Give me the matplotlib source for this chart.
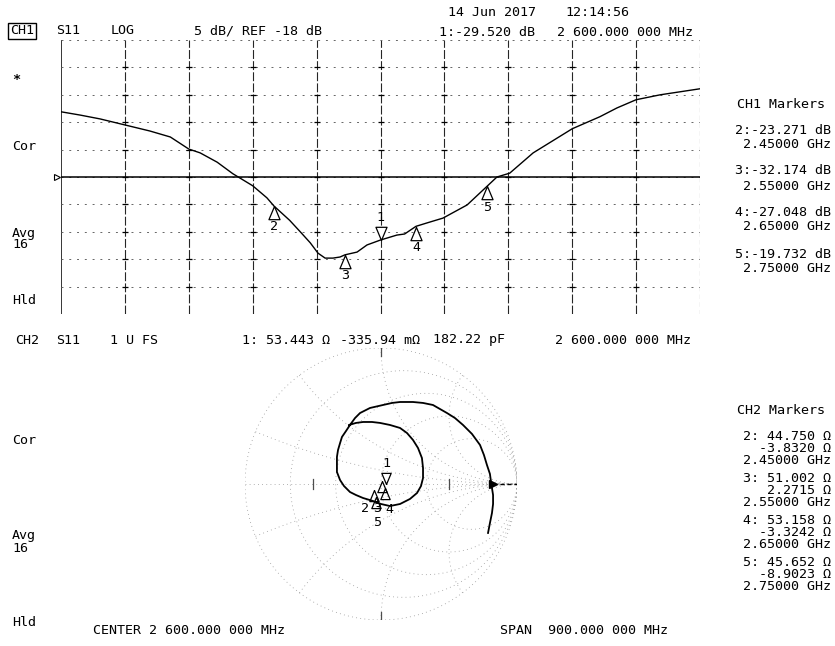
import numpy as np
import matplotlib
matplotlib.use('Agg')
import matplotlib.pyplot as plt
import matplotlib.transforms as mtransforms

plt.rcParams['font.family'] = ['DejaVu Sans Mono', 'DejaVu Sans']
FS = 9.6

# ---- CH1: S11 log magnitude ----
center_mhz = 2600
span_mhz = 900
ref_db = -18
db_per_div = 5

freq_mhz = [2150, 2177, 2205, 2240, 2275, 2304, 2330, 2346, 2370, 2392, 2420, 2440,
            2450, 2472, 2487, 2501, 2512, 2522, 2533, 2543, 2550, 2567, 2581, 2600,
            2623, 2634, 2650, 2665, 2688, 2722, 2750, 2764, 2782, 2815, 2870, 2909,
            2933, 2960, 2994, 3050]
s11_db = [-6.1, -6.7, -7.4, -8.5, -9.6, -10.7, -12.9, -13.6, -15.3, -17.4, -19.6, -21.8,
          -23.3, -25.9, -28.0, -30.0, -31.9, -32.8, -32.8, -32.6, -32.2, -31.7, -30.4, -29.5,
          -28.6, -28.4, -27.0, -26.4, -25.5, -23.1, -19.7, -18.0, -17.3, -13.6, -9.2, -7.0,
          -5.4, -3.9, -3.0, -1.9]

ch1_mk_id = ['1', '2', '3', '4', '5']
ch1_mk_mhz = [2600, 2450, 2550, 2650, 2750]
ch1_mk_db = [-29.520, -23.271, -32.174, -27.048, -19.732]

# ---- CH2: S11 Smith chart trace (reflection coefficient) ----
smith_re = [-0.235, -0.184, -0.132, -0.066, -0.007, 0.066, 0.140, 0.191, 0.235, 0.272,
            0.301, 0.309, 0.309, 0.294, 0.265, 0.213, 0.140, 0.066, 0.000, -0.059,
            -0.132, -0.184, -0.228, -0.272, -0.301, -0.324, -0.324, -0.324, -0.316, -0.301,
            -0.287, -0.257, -0.228, -0.191, -0.154, -0.081, 0.015, 0.081, 0.140, 0.235,
            0.309, 0.382, 0.485, 0.544, 0.603, 0.669, 0.728, 0.757, 0.779, 0.801,
            0.809, 0.824, 0.824, 0.816, 0.801, 0.787]
smith_im = [0.434, 0.449, 0.456, 0.456, 0.449, 0.434, 0.412, 0.375, 0.324, 0.265,
            0.191, 0.118, 0.044, -0.015, -0.066, -0.110, -0.147, -0.162, -0.147, -0.125,
            -0.103, -0.081, -0.059, -0.015, 0.029, 0.088, 0.140, 0.199, 0.250, 0.301,
            0.346, 0.390, 0.434, 0.485, 0.522, 0.559, 0.581, 0.596, 0.603, 0.603,
            0.596, 0.581, 0.522, 0.485, 0.434, 0.368, 0.287, 0.213, 0.140, 0.074,
            0.015, -0.081, -0.147, -0.213, -0.287, -0.360]

ch2_mk_id = ['1', '2', '3', '4', '5']
ch2_mk_r = [53.443, 44.750, 51.002, 53.158, 45.652]
ch2_mk_x = [-0.33594, -3.8320, 2.2715, -3.3242, -8.9023]
z0 = 50.0

ch1_marker_text = [('2:-23.271 dB', '2.45000 GHz'), ('3:-32.174 dB', '2.55000 GHz'),
                   ('4:-27.048 dB', '2.65000 GHz'), ('5:-19.732 dB', '2.75000 GHz')]
ch2_marker_text = [('2: 44.750 Ω', '-3.8320 Ω', '2.45000 GHz'),
                   ('3: 51.002 Ω', '2.2715 Ω', '2.55000 GHz'),
                   ('4: 53.158 Ω', '-3.3242 Ω', '2.65000 GHz'),
                   ('5: 45.652 Ω', '-8.9023 Ω', '2.75000 GHz')]

W, H = 835, 646
fig = plt.figure(figsize=(W / 100, H / 100), dpi=100)
fig.patch.set_facecolor('white')


def px_axes(x0, y0, x1, y1):
    return fig.add_axes([x0 / W, 1 - y1 / H, (x1 - x0) / W, (y1 - y0) / H])


bg = fig.add_axes([0, 0, 1, 1])
bg.set_xlim(0, W)
bg.set_ylim(H, 0)
bg.axis('off')


def txt(x, y, s, ha='left', **kw):
    bg.text(x, y, s, ha=ha, va='center', fontsize=FS, color='k', **kw)


# marker shapes: apex sits on the data point
tri_up = [(0, 0), (-0.42, -1), (0.42, -1), (0, 0)]
tri_dn = [(0, 0), (-0.42, 1), (0.42, 1), (0, 0)]

# ---------------- top panel ----------------
ax1 = px_axes(61, 40, 700, 314)
f_lo, f_hi = center_mhz - span_mhz / 2, center_mhz + span_mhz / 2
y_lo, y_hi = ref_db - 5 * db_per_div, ref_db + 5 * db_per_div
ax1.set_xlim(f_lo, f_hi)
ax1.set_ylim(y_lo, y_hi)
ax1.axis('off')

xs = np.linspace(f_lo, f_hi, 11)
ys = np.linspace(y_lo, y_hi, 11)
for x in xs[1:-1]:
    ax1.axvline(x, color='0.15', lw=0.8, ls=(0, (8, 2)))
ax1.axvline(f_lo, color='k', lw=1.1)
ax1.axvline(f_hi, color='0.3', lw=0.8, ls=(0, (4, 3)))
for y in ys:
    ax1.axhline(y, color='0.4', lw=0.7, ls=(0, (2, 6)))
gx, gy = np.meshgrid(xs[1:-1], ys[1:-1])
ax1.plot(gx.ravel(), gy.ravel(), ls='none', marker='_', ms=5, mew=0.9, color='k')

ax1.axhline(ref_db, color='k', lw=1.1)
ax1.plot([f_lo], [ref_db], marker='>', ms=5, mfc='white', mec='k', mew=0.8,
         clip_on=False, transform=ax1.transData + mtransforms.Affine2D().translate(-4, 0))
ax1.plot(freq_mhz, s11_db, color='k', lw=1.0)

for mid, f, d in zip(ch1_mk_id, ch1_mk_mhz, ch1_mk_db):
    if mid == '1':
        ax1.plot([f], [d], marker=tri_dn, ms=19, mfc='white', mec='k', mew=0.9)
        ax1.annotate(mid, (f, d), xytext=(0, 16), textcoords='offset points',
                     ha='center', va='center', fontsize=FS)
    else:
        ax1.plot([f], [d], marker=tri_up, ms=19, mfc='white', mec='k', mew=0.9)
        ax1.annotate(mid, (f, d), xytext=(0, -15), textcoords='offset points',
                     ha='center', va='center', fontsize=FS)

# ---------------- Smith chart ----------------
ax2 = px_axes(245, 348, 517, 620)
ax2.set_xlim(-1, 1)
ax2.set_ylim(-1, 1)
ax2.axis('off')

grid_kw = dict(color='0.6', lw=0.6, ls=(0, (1, 4)))
t = np.linspace(-np.pi / 2 + 1e-3, np.pi / 2 - 1e-3, 600)
for r in [0, 0.2, 0.5, 1, 2]:
    z = r + 1j * np.tan(t)
    g = (z - 1) / (z + 1)
    ax2.plot(g.real, g.imag, **grid_kw)
rv = np.concatenate([np.linspace(0, 1, 150), np.logspace(0, 3, 300)])
for xv in [0.2, 0.5, 1, 2, -0.2, -0.5, -1, -2]:
    z = rv + 1j * xv
    g = (z - 1) / (z + 1)
    ax2.plot(g.real, g.imag, **grid_kw)
ax2.plot([-1, 1], [0, 0], **grid_kw)
for gy0 in [1, -1]:
    ax2.plot([0, 0], [gy0 * 0.94, gy0], color='0.3', lw=0.9)
for gx0 in [-0.5, 0.5]:
    ax2.plot([gx0, gx0], [-0.04, 0.04], color='0.3', lw=0.9)

ax2.plot(smith_re, smith_im, color='k', lw=1.3)
ax2.plot([0.82, 1.0], [0, 0], color='k', lw=1.0, ls=(0, (3, 2)))
ax2.plot([0.82], [0], marker='>', ms=6, color='k')

zm = np.array(ch2_mk_r) + 1j * np.array(ch2_mk_x)
gm = (zm - z0) / (zm + z0)
label_off = {'1': (1, 21), '2': (-9, -19), '3': (-5, -28), '4': (4, -21), '5': (1, -25)}
for mid, g in zip(ch2_mk_id, gm):
    shape = tri_dn if mid == '1' else tri_up
    ax2.plot([g.real], [g.imag], marker=shape, ms=16, mfc='none', mec='k', mew=0.9)
    ax2.annotate(mid, (g.real, g.imag), xytext=label_off[mid], textcoords='offset pixels',
                 ha='center', va='center', fontsize=FS)

# ---------------- annotation text ----------------
txt(448, 13, '14 Jun 2017')
txt(565, 13, '12:14:56')
txt(10, 31, 'CH1', bbox=dict(boxstyle='square,pad=0.12', fc='white', ec='k', lw=1.0))
txt(56, 31, 'S11')
txt(111, 31, 'LOG')
txt(194, 31, '5 dB/ REF -18 dB')
txt(439, 33, '1:-29.520 dB')
txt(557, 33, '2 600.000 000 MHz')

txt(12, 80, '*', fontweight='bold')
txt(12, 146, 'Cor')
txt(12, 233, 'Avg')
txt(12, 245, '16')
txt(12, 300, 'Hld')

txt(737, 104, 'CH1 Markers')
for (a, b), (ya, yb) in zip(ch1_marker_text, [(131, 145), (171, 186), (213, 227), (254, 269)]):
    txt(831, ya, a, ha='right')
    txt(831, yb, b, ha='right')

txt(15, 340, 'CH2')
txt(56, 340, 'S11')
txt(110, 340, '1 U FS')
txt(242, 340, '1: 53.443 Ω')
txt(340, 340, '-335.94 mΩ')
txt(433, 340, '182.22 pF')
txt(555, 340, '2 600.000 000 MHz')

txt(737, 410, 'CH2 Markers')
for lines, y0 in zip(ch2_marker_text, [437, 479, 521, 563]):
    for k, s in enumerate(lines):
        txt(831, y0 + 11.5 * k, s, ha='right')

txt(12, 440, 'Cor')
txt(12, 536, 'Avg')
txt(12, 548, '16')
txt(12, 623, 'Hld')

txt(93, 631, 'CENTER 2 600.000 000 MHz')
txt(500, 631, 'SPAN  900.000 000 MHz')

fig.savefig('out.png', dpi=100, facecolor='white')
